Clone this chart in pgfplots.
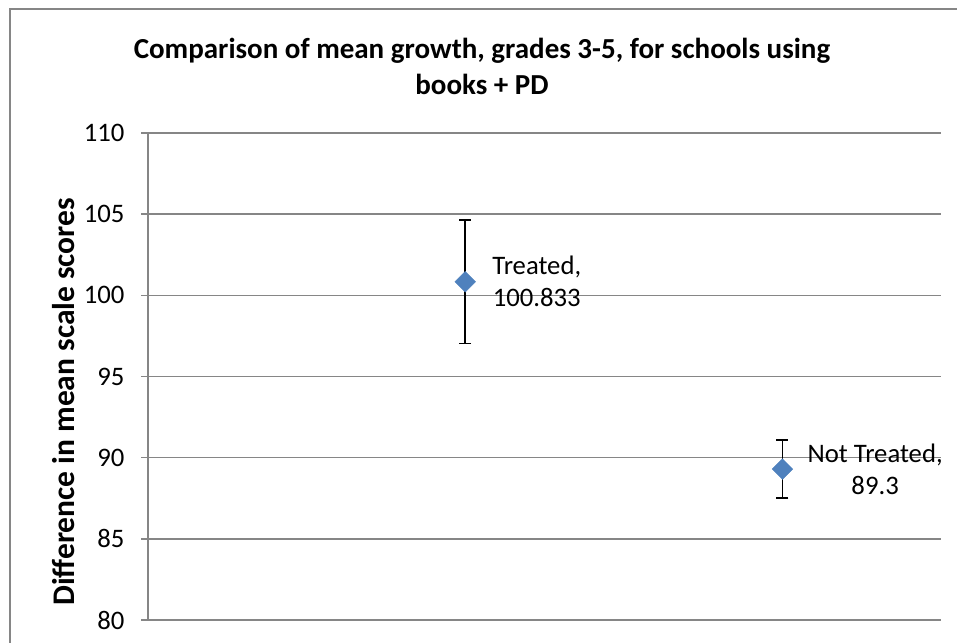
\documentclass[border=0pt]{standalone}
\usepackage{fontspec}
\setmainfont{Carlito}
\usepackage{pgfplots}
\pgfplotsset{compat=1.18}

\definecolor{xlblue}{HTML}{4F81BD}
\definecolor{xlgray}{HTML}{868686}

\begin{document}
\begin{tikzpicture}[x=1bp,y=1bp]
    \useasboundingbox (0,0) rectangle (957,643);
    % chart frame (cropped at right and bottom)
    \draw[xlgray, line width=2bp] (10,-20) -- (10,634) -- (990,634);

    \node[align=center, font=\fontsize{29bp}{36bp}\selectfont\bfseries]
        at (482,577) {Comparison of mean growth, grades 3-5, for schools using\\books + PD};

    \begin{axis}[
        at={(148bp,23bp)},
        anchor=south west,
        scale only axis,
        width=793bp,
        height=487bp,
        xmin=0, xmax=2.5,
        ymin=80, ymax=110,
        ytick={80,85,90,95,100,105,110},
        xtick=\empty,
        axis lines*=left,
        axis line style={xlgray, line width=1.5bp},
        ymajorgrids=true,
        grid style={xlgray, line width=1.5bp},
        tick align=outside,
        major tick length=7bp,
        ytick style={xlgray, line width=1.5bp},
        /pgf/number format/assume math mode=true,
        yticklabel style={font=\fontsize{26.7bp}{32bp}\selectfont, xshift=-13bp},
        ylabel={\textbf{Difference in mean scale scores}},
        ylabel style={font=\fontsize{31.5bp}{38bp}\selectfont,
            at={(axis description cs:-0.107,0.448)}, anchor=center},
        clip=false,
    ]
        \addplot[
            only marks,
            mark=square*,
            mark size=7.3bp,
            mark options={rotate=45, fill=xlblue, draw=xlblue},
            error bars/.cd,
                y dir=both, y explicit,
                error bar style={black, line width=1.6bp},
                error mark options={rotate=90, mark size=6bp, line width=1.6bp, black},
        ]
        coordinates {(1,100.833) +- (0,3.8) (2,89.3) +- (0,1.8)};

        \addplot[
            draw=none, mark=none,
            nodes near coords={Treated,\\100.833},
            every node near coord/.style={anchor=west, align=center, inner sep=0pt, xshift=27bp,
                font=\fontsize{26.7bp}{32bp}\selectfont, black},
        ] coordinates {(1,100.833)};

        \addplot[
            draw=none, mark=none,
            nodes near coords={Not Treated,\\89.3},
            every node near coord/.style={anchor=west, align=center, inner sep=0pt, xshift=25bp,
                font=\fontsize{26.7bp}{32bp}\selectfont, black},
        ] coordinates {(2,89.3)};
    \end{axis}
\end{tikzpicture}
\end{document}
